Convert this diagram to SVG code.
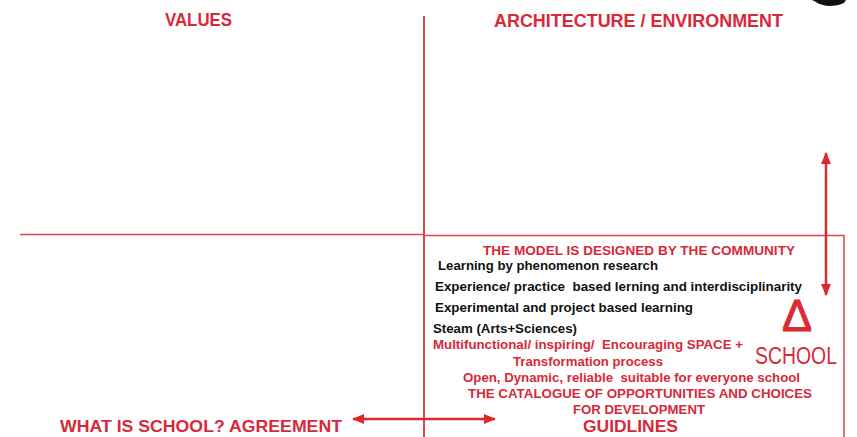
<svg xmlns="http://www.w3.org/2000/svg" width="857" height="437" viewBox="0 0 857 437">
<style>
.h{font-family:"Liberation Sans",Arial,sans-serif;font-weight:bold;fill:#d8283a;}
.r{font-family:"Liberation Sans",Arial,sans-serif;font-weight:bold;fill:#d8283a;font-size:12.5px;}
.k{font-family:"Liberation Sans",Arial,sans-serif;font-weight:bold;fill:#111;font-size:13px;}
.ln{stroke:#d94a4f;fill:none;}
.ar{stroke:#dc2a32;stroke-width:2.5;fill:none;}
</style>
<defs>
<marker id="ah" viewBox="0 0 12 10" refX="11" refY="5" markerWidth="12" markerHeight="10" markerUnits="userSpaceOnUse" orient="auto-start-reverse">
<path d="M0,0 L12,5 L0,10 Z" fill="#dc2a32"/>
</marker>
</defs>
<rect width="857" height="437" fill="#fff"/>
<path d="M812,0 L846,0 L844,3 Q838,6 829,6 Q820,5 816,2 Z" fill="#111"/>
<g id="quadrants">
<line class="ln" x1="424" y1="16" x2="424" y2="437" stroke-width="2"/>
<line class="ln" x1="20" y1="234.5" x2="424" y2="234.5" stroke-width="1.5" stroke="#e07a7e"/>
</g>
<g id="values"><text class="h" x="165" y="26" font-size="17.5" textLength="67" lengthAdjust="spacingAndGlyphs">VALUES</text></g>
<g id="architecture"><text class="h" x="494" y="27" font-size="18.5" textLength="289" lengthAdjust="spacingAndGlyphs">ARCHITECTURE / ENVIRONMENT</text></g>
<g id="agreement"><text class="h" x="60" y="432" font-size="16.5" textLength="282" lengthAdjust="spacingAndGlyphs">WHAT IS SCHOOL? AGREEMENT</text></g>
<g id="model-box">
<rect class="ln" x="424" y="235.5" width="420" height="210" stroke-width="1.5"/>
<text class="r" x="483" y="255" textLength="312" lengthAdjust="spacingAndGlyphs">THE MODEL IS DESIGNED BY THE COMMUNITY</text>
<text class="k" x="438" y="270" textLength="220" lengthAdjust="spacingAndGlyphs">Learning by phenomenon research</text>
<text class="k" x="435" y="291" textLength="367" lengthAdjust="spacingAndGlyphs" xml:space="preserve">Experience/ practice  based lerning and interdisciplinarity</text>
<text class="k" x="435" y="312" textLength="258" lengthAdjust="spacingAndGlyphs">Experimental and project based learning</text>
<text class="k" x="433" y="333" textLength="144" lengthAdjust="spacingAndGlyphs">Steam (Arts+Sciences)</text>
<text class="r" x="433" y="349" textLength="310" lengthAdjust="spacingAndGlyphs" xml:space="preserve">Multifunctional/ inspiring/  Encouraging SPACE +</text>
<text class="r" x="513" y="366" textLength="150" lengthAdjust="spacingAndGlyphs">Transformation process</text>
<text class="r" x="463" y="382" textLength="337" lengthAdjust="spacingAndGlyphs" xml:space="preserve">Open, Dynamic, reliable  suitable for everyone school</text>
<text class="r" x="468" y="398" textLength="344" lengthAdjust="spacingAndGlyphs">THE CATALOGUE OF OPPORTUNITIES AND CHOICES</text>
<text class="r" x="573" y="414" textLength="132" lengthAdjust="spacingAndGlyphs">FOR DEVELOPMENT</text>
<text class="h" x="583" y="432" font-size="16.5" textLength="95" lengthAdjust="spacingAndGlyphs">GUIDLINES</text>
</g>
<g id="school">
<text x="797" y="331" text-anchor="middle" font-family="'Liberation Sans',Arial,sans-serif" font-size="45" fill="#dc2a32" stroke="#dc2a32" stroke-width="1">Δ</text>
<text x="755" y="364" font-family="'Liberation Sans',Arial,sans-serif" font-size="23" fill="#d8283a" textLength="82" lengthAdjust="spacingAndGlyphs">SCHOOL</text>
</g>
<g id="connectors">
<line class="ar" x1="826" y1="153" x2="826" y2="295" marker-start="url(#ah)" marker-end="url(#ah)"/>
<line class="ar" x1="353" y1="419" x2="495" y2="419" marker-start="url(#ah)" marker-end="url(#ah)"/>
</g>
</svg>
